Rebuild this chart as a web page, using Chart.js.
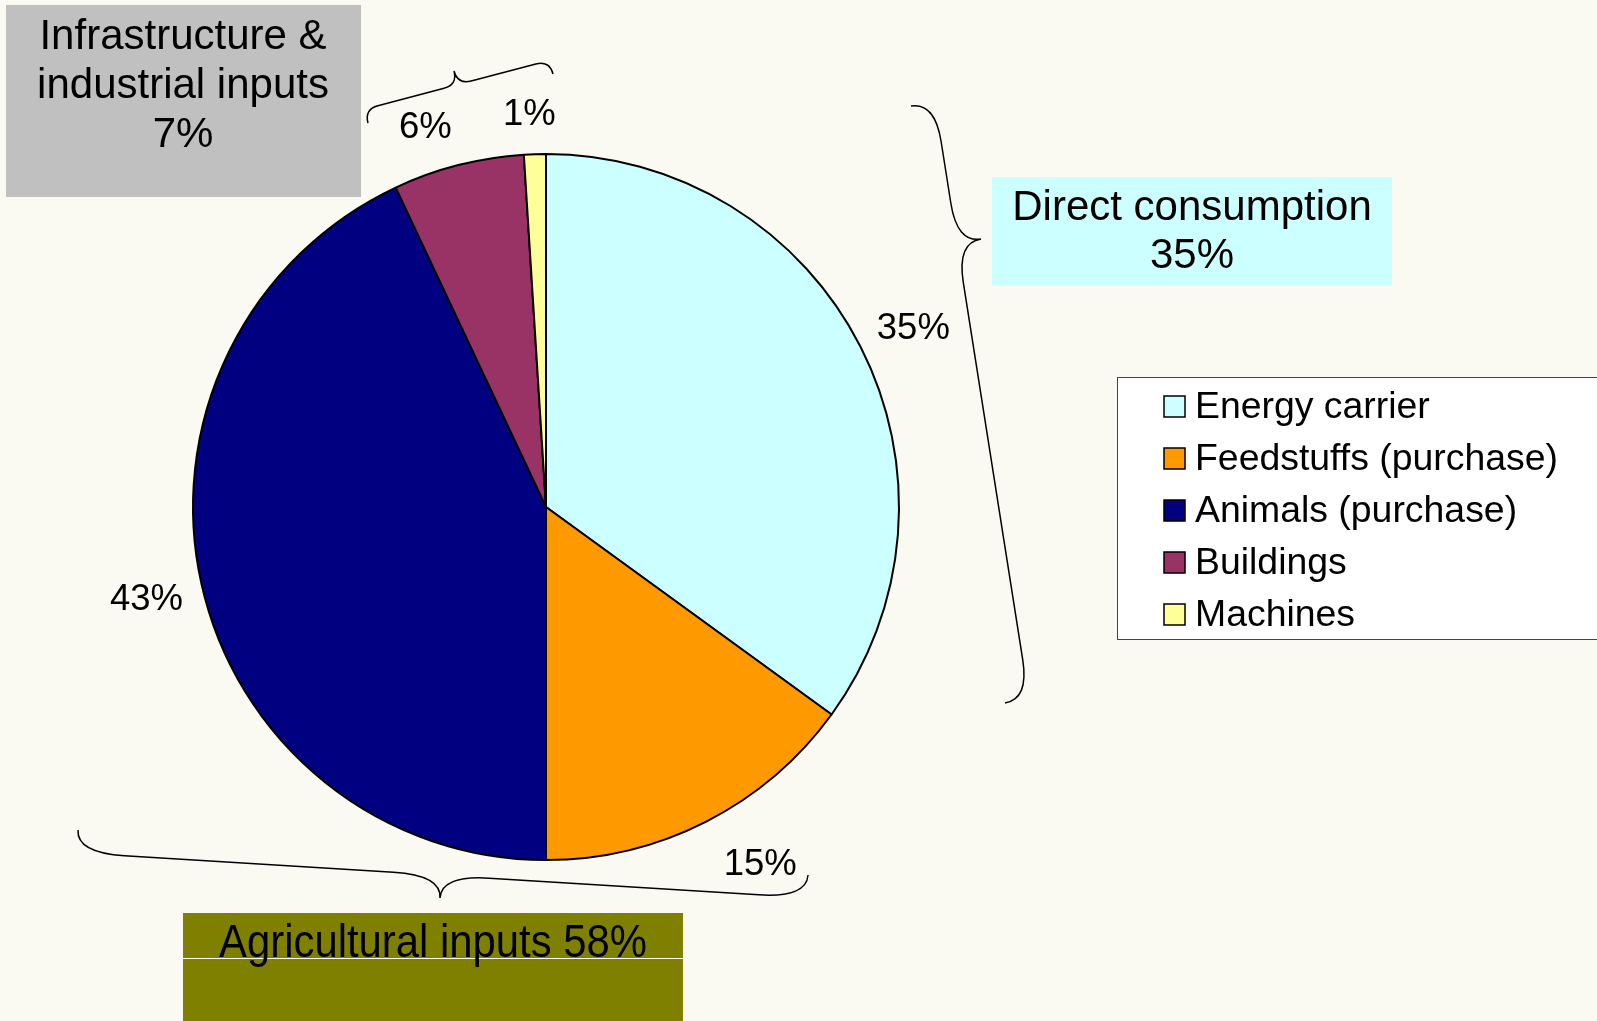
<!DOCTYPE html>
<html>
<head>
<meta charset="utf-8">
<script src="https://cdn.jsdelivr.net/npm/chart.js@4/dist/chart.umd.min.js"></script>
<style>
  html, body { margin: 0; padding: 0; background: #fafaf2; }
  canvas { display: block; }
</style>
</head>
<body>
<canvas id="pie" width="1597" height="1021"></canvas>
<script>
const categories = ["Energy carrier", "Feedstuffs (purchase)", "Animals (purchase)", "Buildings", "Machines"];
const shares = [35, 15, 43, 6, 1];
const sliceColors = ["#ccffff", "#ff9900", "#000080", "#993366", "#ffff99"];

const FONT = '"Liberation Sans", Arial, sans-serif';

// curly brace: two halves from each end to the tip
function halfBrace(ctx, e, t, n, r) {
  const dx = t[0] - e[0], dy = t[1] - e[1];
  const depth = dx * n[0] + dy * n[1];
  const h = depth / 2;
  let ux = dx - depth * n[0], uy = dy - depth * n[1];
  const ul = Math.hypot(ux, uy);
  ux /= ul; uy /= ul;
  ctx.moveTo(e[0], e[1]);
  ctx.quadraticCurveTo(e[0] + n[0] * h, e[1] + n[1] * h,
    e[0] + n[0] * h + ux * r, e[1] + n[1] * h + uy * r);
  ctx.lineTo(t[0] - n[0] * h - ux * r, t[1] - n[1] * h - uy * r);
  ctx.quadraticCurveTo(t[0] - n[0] * h, t[1] - n[1] * h, t[0], t[1]);
}

function drawBrace(ctx, a, tip, b, r) {
  let bx = b[0] - a[0], by = b[1] - a[1];
  const bl = Math.hypot(bx, by);
  bx /= bl; by /= bl;
  let n = [-by, bx];
  if ((tip[0] - a[0]) * n[0] + (tip[1] - a[1]) * n[1] < 0) n = [by, -bx];
  ctx.beginPath();
  halfBrace(ctx, a, tip, n, r);
  halfBrace(ctx, b, tip, n, r);
  ctx.stroke();
}

// small hand nudges of the outside labels, like the dragged labels in the original
const labelShift = [[-2, 0], [26, 9], [5, 8], [-20, 0], [-4, -1]];

const decorations = {
  id: "decorations",
  afterDraw(chart) {
    const ctx = chart.ctx;
    ctx.save();

    // percent labels outside each slice
    const meta = chart.getDatasetMeta(0);
    ctx.fillStyle = "#000";
    ctx.font = "36.5px " + FONT;
    ctx.textAlign = "center";
    ctx.textBaseline = "middle";
    meta.data.forEach((arc, i) => {
      const p = arc.getProps(["x", "y", "startAngle", "endAngle", "outerRadius"], true);
      const mid = (p.startAngle + p.endAngle) / 2;
      const txt = shares[i] + "%";
      const w = ctx.measureText(txt).width;
      const cx = Math.cos(mid), cy = Math.sin(mid);
      const rr = p.outerRadius + 25;
      const x = p.x + cx * rr + cx * w / 2 + labelShift[i][0];
      const y = p.y + cy * rr + cy * 13.5 + labelShift[i][1];
      ctx.fillText(txt, x, y);
    });

    // braces
    ctx.strokeStyle = "#000";
    ctx.lineWidth = 1.5;
    drawBrace(ctx, [368, 123], [454, 71], [553, 74], 14);
    drawBrace(ctx, [911, 106], [981, 239], [1005, 703], 40);
    drawBrace(ctx, [78, 830], [440, 898], [808, 875], 48);

    // group boxes
    ctx.fillStyle = "#c0c0c0";
    ctx.fillRect(6, 5, 355, 192);
    ctx.fillStyle = "#ccffff";
    ctx.fillRect(992, 177, 400, 109);
    ctx.fillStyle = "#808000";
    ctx.fillRect(183, 913, 500, 108);
    ctx.strokeStyle = "#ffffff";
    ctx.lineWidth = 1;
    ctx.beginPath();
    ctx.moveTo(183, 958.5);
    ctx.lineTo(683, 958.5);
    ctx.stroke();

    ctx.fillStyle = "#000";
    ctx.textBaseline = "alphabetic";
    ctx.font = "42px " + FONT;
    ctx.fillText("Infrastructure &", 183, 49);
    ctx.fillText("industrial inputs", 183, 98);
    ctx.fillText("7%", 183, 147);
    ctx.fillText("Direct consumption", 1192, 220);
    ctx.fillText("35%", 1192, 268);

    ctx.save();
    ctx.translate(433, 957);
    ctx.scale(0.89, 1);
    ctx.font = "47px " + FONT;
    ctx.fillText("Agricultural inputs 58%", 0, 0);
    ctx.restore();

    // legend
    ctx.fillStyle = "#ffffff";
    ctx.fillRect(1117, 377, 500, 263);
    ctx.strokeStyle = "#444";
    ctx.lineWidth = 1;
    ctx.strokeRect(1117.5, 377.5, 500, 262);
    ctx.font = "37.4px " + FONT;
    ctx.textAlign = "left";
    ctx.textBaseline = "middle";
    categories.forEach((c, i) => {
      const y = 407 + i * 52;
      ctx.fillStyle = sliceColors[i];
      ctx.fillRect(1164, y - 11, 21, 21);
      ctx.strokeStyle = "#000";
      ctx.lineWidth = 1.5;
      ctx.strokeRect(1164, y - 11, 21, 21);
      ctx.fillStyle = "#000";
      ctx.fillText(c, 1195, y + 1);
    });

    ctx.restore();
  }
};

new Chart(document.getElementById("pie"), {
  type: "pie",
  data: {
    labels: categories,
    datasets: [{
      data: shares,
      backgroundColor: sliceColors,
      borderColor: "#000",
      borderWidth: 2,
    }],
  },
  options: {
    responsive: false,
    animation: false,
    devicePixelRatio: 1,
    radius: 353,
    layout: { padding: { left: 150, right: 655, top: 100, bottom: 107 } },
    plugins: {
      legend: { display: false },
      tooltip: { enabled: false },
    },
  },
  plugins: [decorations],
});
</script>
</body>
</html>
